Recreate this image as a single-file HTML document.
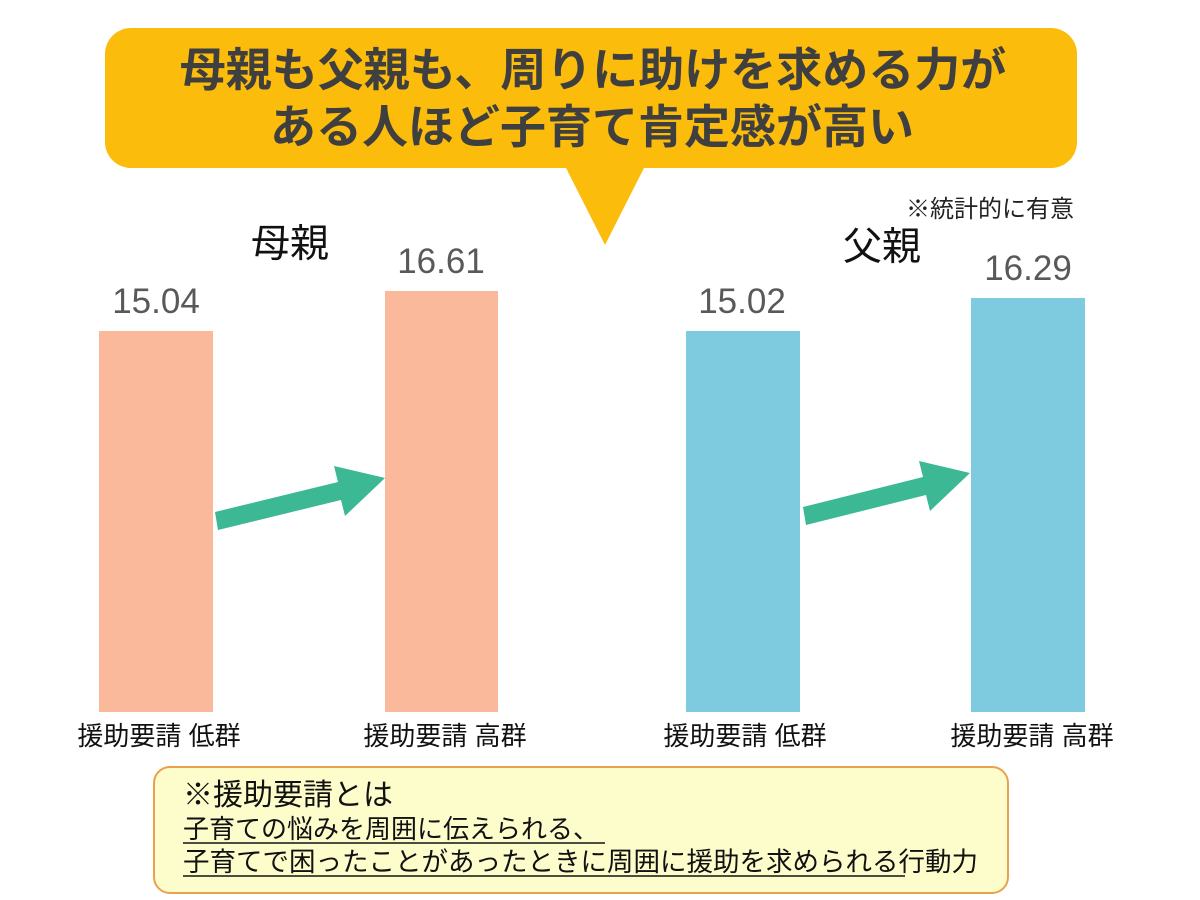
<!DOCTYPE html>
<html><head><meta charset="utf-8"><style>
html,body{margin:0;padding:0;background:#fff;}
svg{display:block;}
text{font-family:"Liberation Sans","Noto Sans CJK JP",sans-serif;}
</style></head><body>
<svg width="1200" height="900" viewBox="0 0 1200 900">
<rect x="105" y="28" width="972" height="140" rx="26" fill="#FBBC0C"/>
<polygon points="565,166 645,166 605,245" fill="#FBBC0C"/>
<text x="593" y="86" font-size="46" font-weight="bold" fill="#3f3f3f" text-anchor="middle">母親も父親も、周りに助けを求める力が</text>
<text x="592" y="143" font-size="46" font-weight="bold" fill="#3f3f3f" text-anchor="middle">ある人ほど子育て肯定感が高い</text>

<text x="990" y="217" font-size="24" fill="#222" text-anchor="middle">※統計的に有意</text>
<text x="290" y="257" font-size="39" fill="#111" text-anchor="middle">母親</text>
<text x="882" y="260" font-size="39" fill="#111" text-anchor="middle">父親</text>

<rect x="99" y="331" width="114" height="381" fill="#F9B99A"/>
<rect x="385" y="291" width="113" height="421" fill="#F9B99A"/>
<rect x="686" y="331" width="114" height="381" fill="#7ECBE0"/>
<rect x="971" y="298" width="114" height="414" fill="#7ECBE0"/>

<g font-size="35" fill="#595959" text-anchor="middle">
<text x="156" y="313">15.04</text>
<text x="441" y="273">16.61</text>
<text x="742" y="313">15.02</text>
<text x="1028" y="280">16.29</text>
</g>

<polygon points="215,512 338,482 334,466 385,478 345,516 341,500 218,530" fill="#3DB894"/>
<polygon points="803,507 923,477 919,461 970,473 930,511 926,495 806,525" fill="#3DB894"/>

<g font-size="26" fill="#111" text-anchor="middle">
<text x="159" y="745">援助要請 低群</text>
<text x="445" y="745">援助要請 高群</text>
<text x="745" y="745">援助要請 低群</text>
<text x="1032" y="745">援助要請 高群</text>
</g>

<rect x="154" y="767" width="854" height="126" rx="16" fill="#FDFCCB" stroke="#E9A150" stroke-width="2"/>
<text x="183" y="805" font-size="30" fill="#111">※援助要請とは</text>
<text x="183" y="838" font-size="26" fill="#111">子育ての悩みを周囲に伝えられる、</text>
<line x1="183" y1="843" x2="605" y2="843" stroke="#111" stroke-width="1.5"/>
<text x="183" y="871" font-size="26.5" fill="#111">子育てで困ったことがあったときに周囲に援助を求められる行動力</text>
<line x1="183" y1="876" x2="905" y2="876" stroke="#111" stroke-width="1.5"/>
</svg>
</body></html>
